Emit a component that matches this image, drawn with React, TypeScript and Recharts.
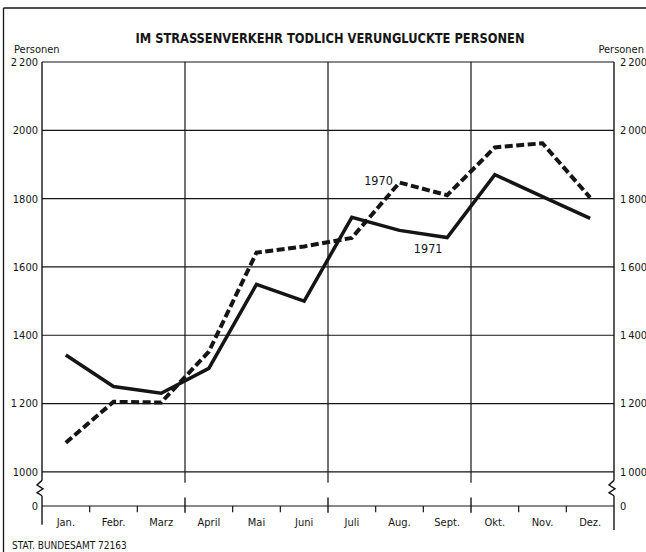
import React from "react";
import { LineChart, Line, XAxis, YAxis, CartesianGrid, ReferenceLine } from "recharts";

const months = ["Jan.", "Febr.", "Marz", "April", "Mai", "Juni", "Juli", "Aug.", "Sept.", "Okt.", "Nov.", "Dez."];
const deaths1970 = [1085, 1205, 1203, 1352, 1642, 1660, 1685, 1847, 1810, 1950, 1962, 1803];
const deaths1971 = [1342, 1250, 1230, 1303, 1549, 1500, 1745, 1707, 1686, 1870, 1806, 1742];

// 900 stands for the broken-off zero line
const yTicks = [900, 1000, 1200, 1400, 1600, 1800, 2000, 2200];
const leftTickLabels = ["0", "1000", "1\u202f200", "1400", "1600", "1800", "2000", "2\u202f200"];
const rightTickLabels = ["0", "1\u202f000", "1\u202f200", "1\u202f400", "1\u202f600", "1\u202f800", "2\u202f000", "2\u202f200"];
const quarterBounds = [3, 6, 9];
const monthBounds = [1, 2, 4, 5, 7, 8, 10, 11];

// each month sits in the middle of its slot on a 0..12 axis
const data = months.map((month, i) => ({ pos: i + 0.5, month, y1970: deaths1970[i], y1971: deaths1971[i] }));
const monthTicks = data.map((d) => d.pos);

const FONT = "'DejaVu Sans Condensed', 'Liberation Sans Narrow', 'Open Sans', sans-serif";
const INK = "#151515";

const Zigzag = (props: any) => {
  const { x1, y1, y2 } = props;
  const h = y2 - y1;
  const d = `M${x1},${y1} L${x1 - 5},${y1 + h * 0.3} L${x1 + 1},${y1 + h * 0.55} L${x1 - 5},${y1 + h * 0.8} L${x1},${y2}`;
  return <path d={d} fill="none" stroke={INK} strokeWidth={1.4} />;
};

const seriesLabel = (text: string, at: number, dx: number, dy: number) => (p: any) => {
  if (p.index !== at) return <g key={p.index} />;
  return (
    <text key={p.index} x={p.x + dx} y={p.y + dy} textAnchor="middle" fontFamily={FONT} fontSize={12.5} fill={INK}>
      {text}
    </text>
  );
};

export default function App() {
  return (
    <div style={{ position: "absolute", left: 0, top: 0, width: 646, height: 552, background: "#fff" }}>
      <LineChart width={646} height={552} data={data} margin={{ top: 62, right: 0, bottom: 26, left: 0 }}>
        <line x1={3.5} y1={8} x2={646} y2={8} stroke={INK} strokeWidth={1.3} />
        <line x1={3.5} y1={8} x2={3.5} y2={552} stroke={INK} strokeWidth={1.3} />
        <text x={330} y={43} textAnchor="middle" fontFamily={FONT} fontSize={14.5} fontWeight={600} fill={INK} textLength={389} lengthAdjust="spacingAndGlyphs">
          IM STRASSENVERKEHR TODLICH VERUNGLUCKTE PERSONEN
        </text>
        <text x={14} y={53} fontFamily={FONT} fontSize={11} fill={INK}>Personen</text>
        <text x={644} y={53} textAnchor="end" fontFamily={FONT} fontSize={11} fill={INK}>Personen</text>
        <text x={12} y={549} fontFamily={FONT} fontSize={10} fill={INK}>STAT. BUNDESAMT 72163</text>

        <CartesianGrid vertical={false} stroke={INK} strokeWidth={1.2} yAxisId="l" xAxisId="m" />
        <XAxis
          xAxisId="m"
          dataKey="pos"
          type="number"
          domain={[0, 12]}
          ticks={monthTicks}
          tickFormatter={(v: number) => months[Math.floor(v)]}
          axisLine={false}
          tickLine={false}
          tickSize={0}
          height={20}
          tickMargin={12}
          interval={0}
          tick={{ fontFamily: FONT, fontSize: 11, fill: INK }}
        />
        <YAxis
          yAxisId="l"
          domain={[900, 2200]}
          ticks={yTicks}
          width={42}
          axisLine={false}
          tickLine={false}
          tickSize={0}
          tickMargin={4}
          tickFormatter={(v: number) => leftTickLabels[yTicks.indexOf(v)]}
          tick={{ fontFamily: FONT, fontSize: 11, fill: INK }}
        />
        <YAxis
          yAxisId="r"
          orientation="right"
          domain={[900, 2200]}
          ticks={yTicks}
          width={32}
          axisLine={false}
          tickLine={false}
          tickSize={0}
          tickMargin={6}
          tickFormatter={(v: number) => rightTickLabels[yTicks.indexOf(v)]}
          tick={{ fontFamily: FONT, fontSize: 11, fill: INK }}
        />

        {quarterBounds.map((q) => (
          <ReferenceLine key={"g" + q} xAxisId="m" yAxisId="l" segment={[{ x: q, y: 2200 }, { x: q, y: 968 }]} stroke={INK} strokeWidth={1.2} ifOverflow="visible" />
        ))}
        {quarterBounds.map((q) => (
          <ReferenceLine key={"q" + q} xAxisId="m" yAxisId="l" segment={[{ x: q, y: 925 }, { x: q, y: 880 }]} stroke={INK} strokeWidth={1.4} ifOverflow="visible" />
        ))}
        {monthBounds.map((m) => (
          <ReferenceLine key={"t" + m} xAxisId="m" yAxisId="l" segment={[{ x: m, y: 900 }, { x: m, y: 882 }]} stroke={INK} strokeWidth={1.2} ifOverflow="visible" />
        ))}
        {[0, 12].map((e) => (
          <ReferenceLine key={"a" + e} xAxisId="m" yAxisId="l" segment={[{ x: e, y: 2200 }, { x: e, y: 975 }]} stroke={INK} strokeWidth={1.4} ifOverflow="visible" />
        ))}
        {[0, 12].map((e) => (
          <ReferenceLine key={"z" + e} xAxisId="m" yAxisId="l" segment={[{ x: e, y: 975 }, { x: e, y: 930 }]} shape={Zigzag} ifOverflow="visible" />
        ))}
        {[0, 12].map((e) => (
          <ReferenceLine key={"e" + e} xAxisId="m" yAxisId="l" segment={[{ x: e, y: 930 }, { x: e, y: e === 0 ? 845 : 830 }]} stroke={INK} strokeWidth={1.4} ifOverflow="visible" />
        ))}

        <Line
          xAxisId="m"
          yAxisId="l"
          dataKey="y1970"
          stroke={INK}
          strokeWidth={4}
          strokeDasharray="8 3.5"
          dot={false}
          isAnimationActive={false}
          label={seriesLabel("1970", 7, -21, 2)}
        />
        <Line
          xAxisId="m"
          yAxisId="r"
          dataKey="y1971"
          stroke={INK}
          strokeWidth={3.5}
          dot={false}
          isAnimationActive={false}
          label={seriesLabel("1971", 8, -19, 15)}
        />
      </LineChart>
    </div>
  );
}
